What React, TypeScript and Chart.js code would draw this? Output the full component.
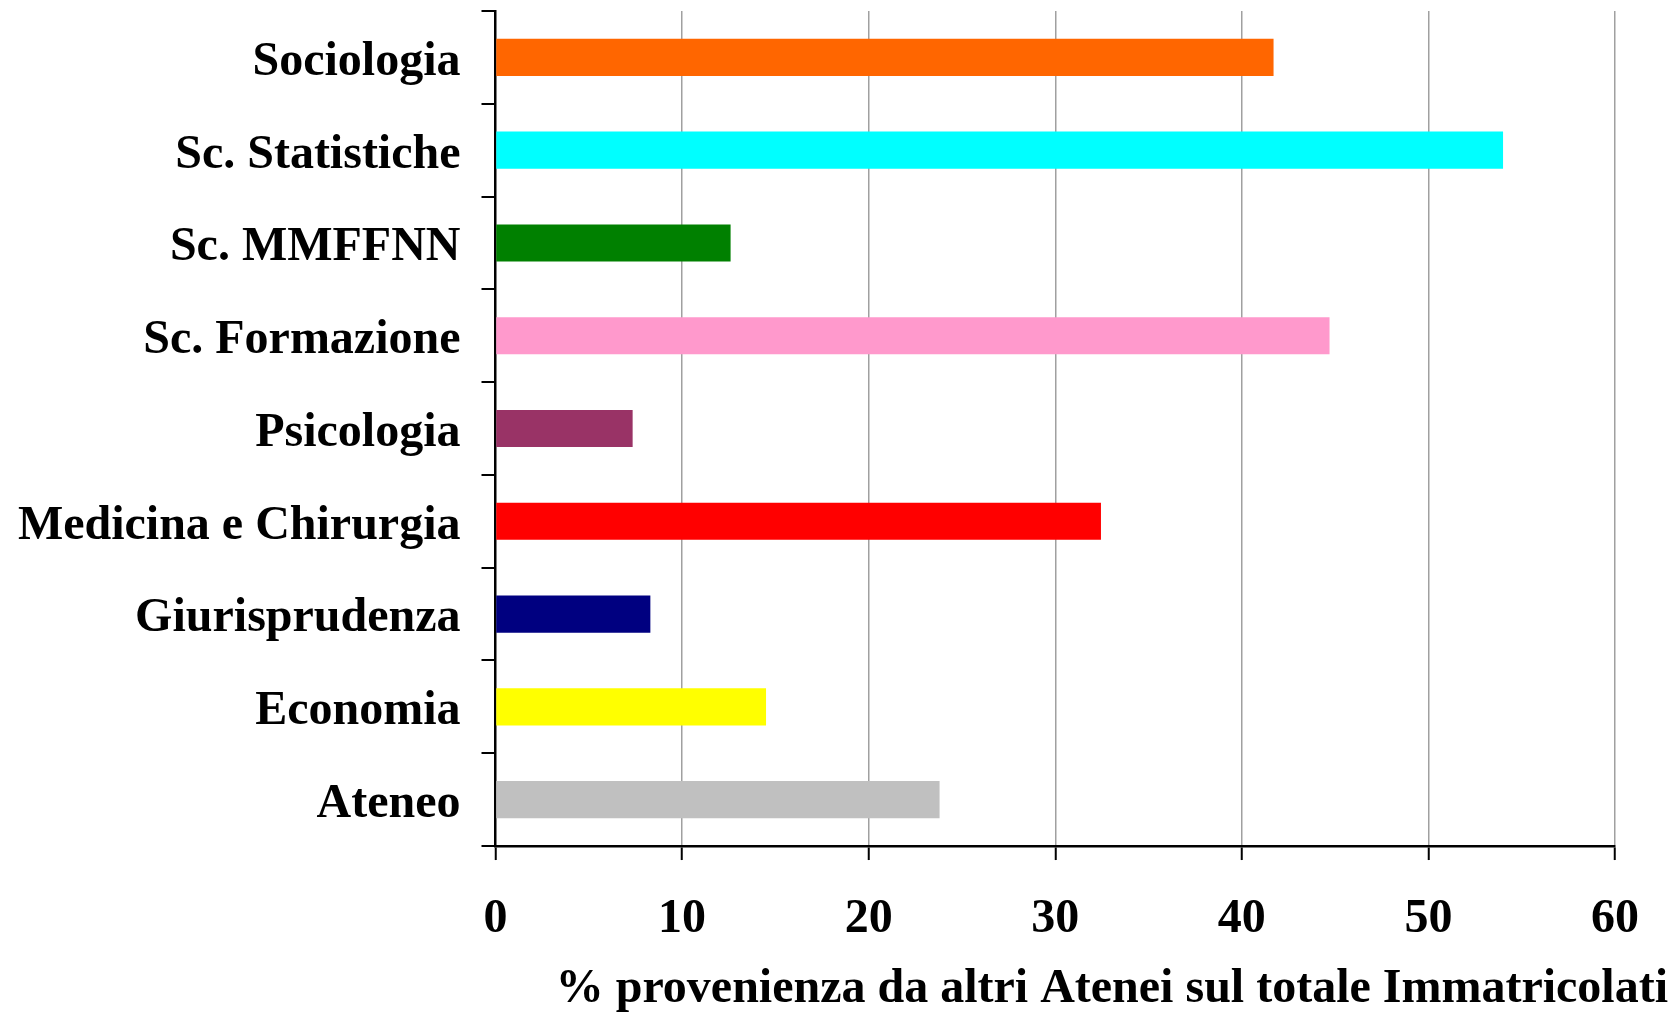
import React, { useEffect, useRef } from "react";
import { Chart, registerables } from "chart.js";

Chart.register(...registerables);

const categories = [
  "Sociologia",
  "Sc. Statistiche",
  "Sc. MMFFNN",
  "Sc. Formazione",
  "Psicologia",
  "Medicina e Chirurgia",
  "Giurisprudenza",
  "Economia",
  "Ateneo",
];

const values = [41.7, 54.0, 12.6, 44.7, 7.35, 32.45, 8.3, 14.5, 23.8];

const barColors = [
  "#FF6600",
  "#00FFFF",
  "#008000",
  "#FF99CC",
  "#993366",
  "#FF0000",
  "#000080",
  "#FFFF00",
  "#C0C0C0",
];

const xMin = 0;
const xMax = 60;
const xStep = 10;

const xTitle = "% provenienza da altri Atenei sul totale Immatricolati";

const FONT_FAMILY = "'Liberation Serif', 'Times New Roman', serif";

export default function App() {
  const canvasRef = useRef<HTMLCanvasElement | null>(null);

  useEffect(() => {
    document.body.style.margin = "0";
    document.body.style.overflow = "hidden";
    const canvas = canvasRef.current;
    if (!canvas) return;

    const font = { family: FONT_FAMILY, size: 48, weight: "bold" as const, lineHeight: 1.2 };

    const chart = new Chart(canvas, {
      type: "bar",
      data: {
        labels: categories,
        datasets: [
          {
            data: values,
            backgroundColor: barColors,
            borderWidth: 0,
            barPercentage: 0.4,
            categoryPercentage: 1.0,
          },
        ],
      },
      options: {
        indexAxis: "y",
        responsive: false,
        animation: false,
        devicePixelRatio: 1,
        layout: { padding: { top: 11, left: 0, right: 11, bottom: 0 } },
        plugins: {
          legend: { display: false },
          tooltip: { enabled: false },
          title: {
            display: true,
            text: xTitle,
            position: "bottom",
            align: "end",
            color: "#000",
            font: { family: FONT_FAMILY, size: 48, weight: "bold", lineHeight: 0.92 },
            padding: { top: 0, bottom: 0 },
          },
        },
        scales: {
          x: {
            type: "linear",
            position: "bottom",
            min: xMin,
            max: xMax,
            ticks: {
              stepSize: xStep,
              color: "#000",
              font,
              padding: 31,
            },
            grid: {
              color: (ctx: any) => (ctx.index === 0 ? "rgba(0,0,0,0)" : "#a0a0a0"),
              lineWidth: 1.5,
              tickColor: "#000",
              tickWidth: 2,
              tickLength: 14,
            },
            border: { display: true, color: "#000", width: 2.5 },
            afterFit: (scale: any) => {
              scale.height = 121.8;
              scale.paddingLeft = 0;
              scale.paddingRight = 0;
            },
          },
          y: {
            type: "category",
            position: "left",
            ticks: {
              color: "#000",
              font,
              padding: 21,
              labelOffset: 5,
            },
            grid: {
              offset: true,
              drawOnChartArea: false,
              color: "#000",
              lineWidth: 2,
              tickLength: 14,
            },
            border: { display: true, color: "#000", width: 2.5 },
            afterFit: (scale: any) => {
              scale.width = 495.5;
              scale.paddingTop = 0;
              scale.paddingBottom = 0;
            },
          },
          yPad: {
            type: "linear",
            axis: "y",
            position: "right",
            display: true,
            ticks: { display: false },
            grid: { display: false },
            border: { display: false },
            afterFit: (scale: any) => {
              scale.width = 53;
              scale.paddingTop = 0;
              scale.paddingBottom = 0;
            },
          },
        },
      },
    });

    return () => {
      chart.destroy();
    };
  }, []);

  return (
    <canvas
      ref={canvasRef}
      width={1679}
      height={1012}
      style={{ display: "block", width: "1679px", height: "1012px" }}
    />
  );
}
